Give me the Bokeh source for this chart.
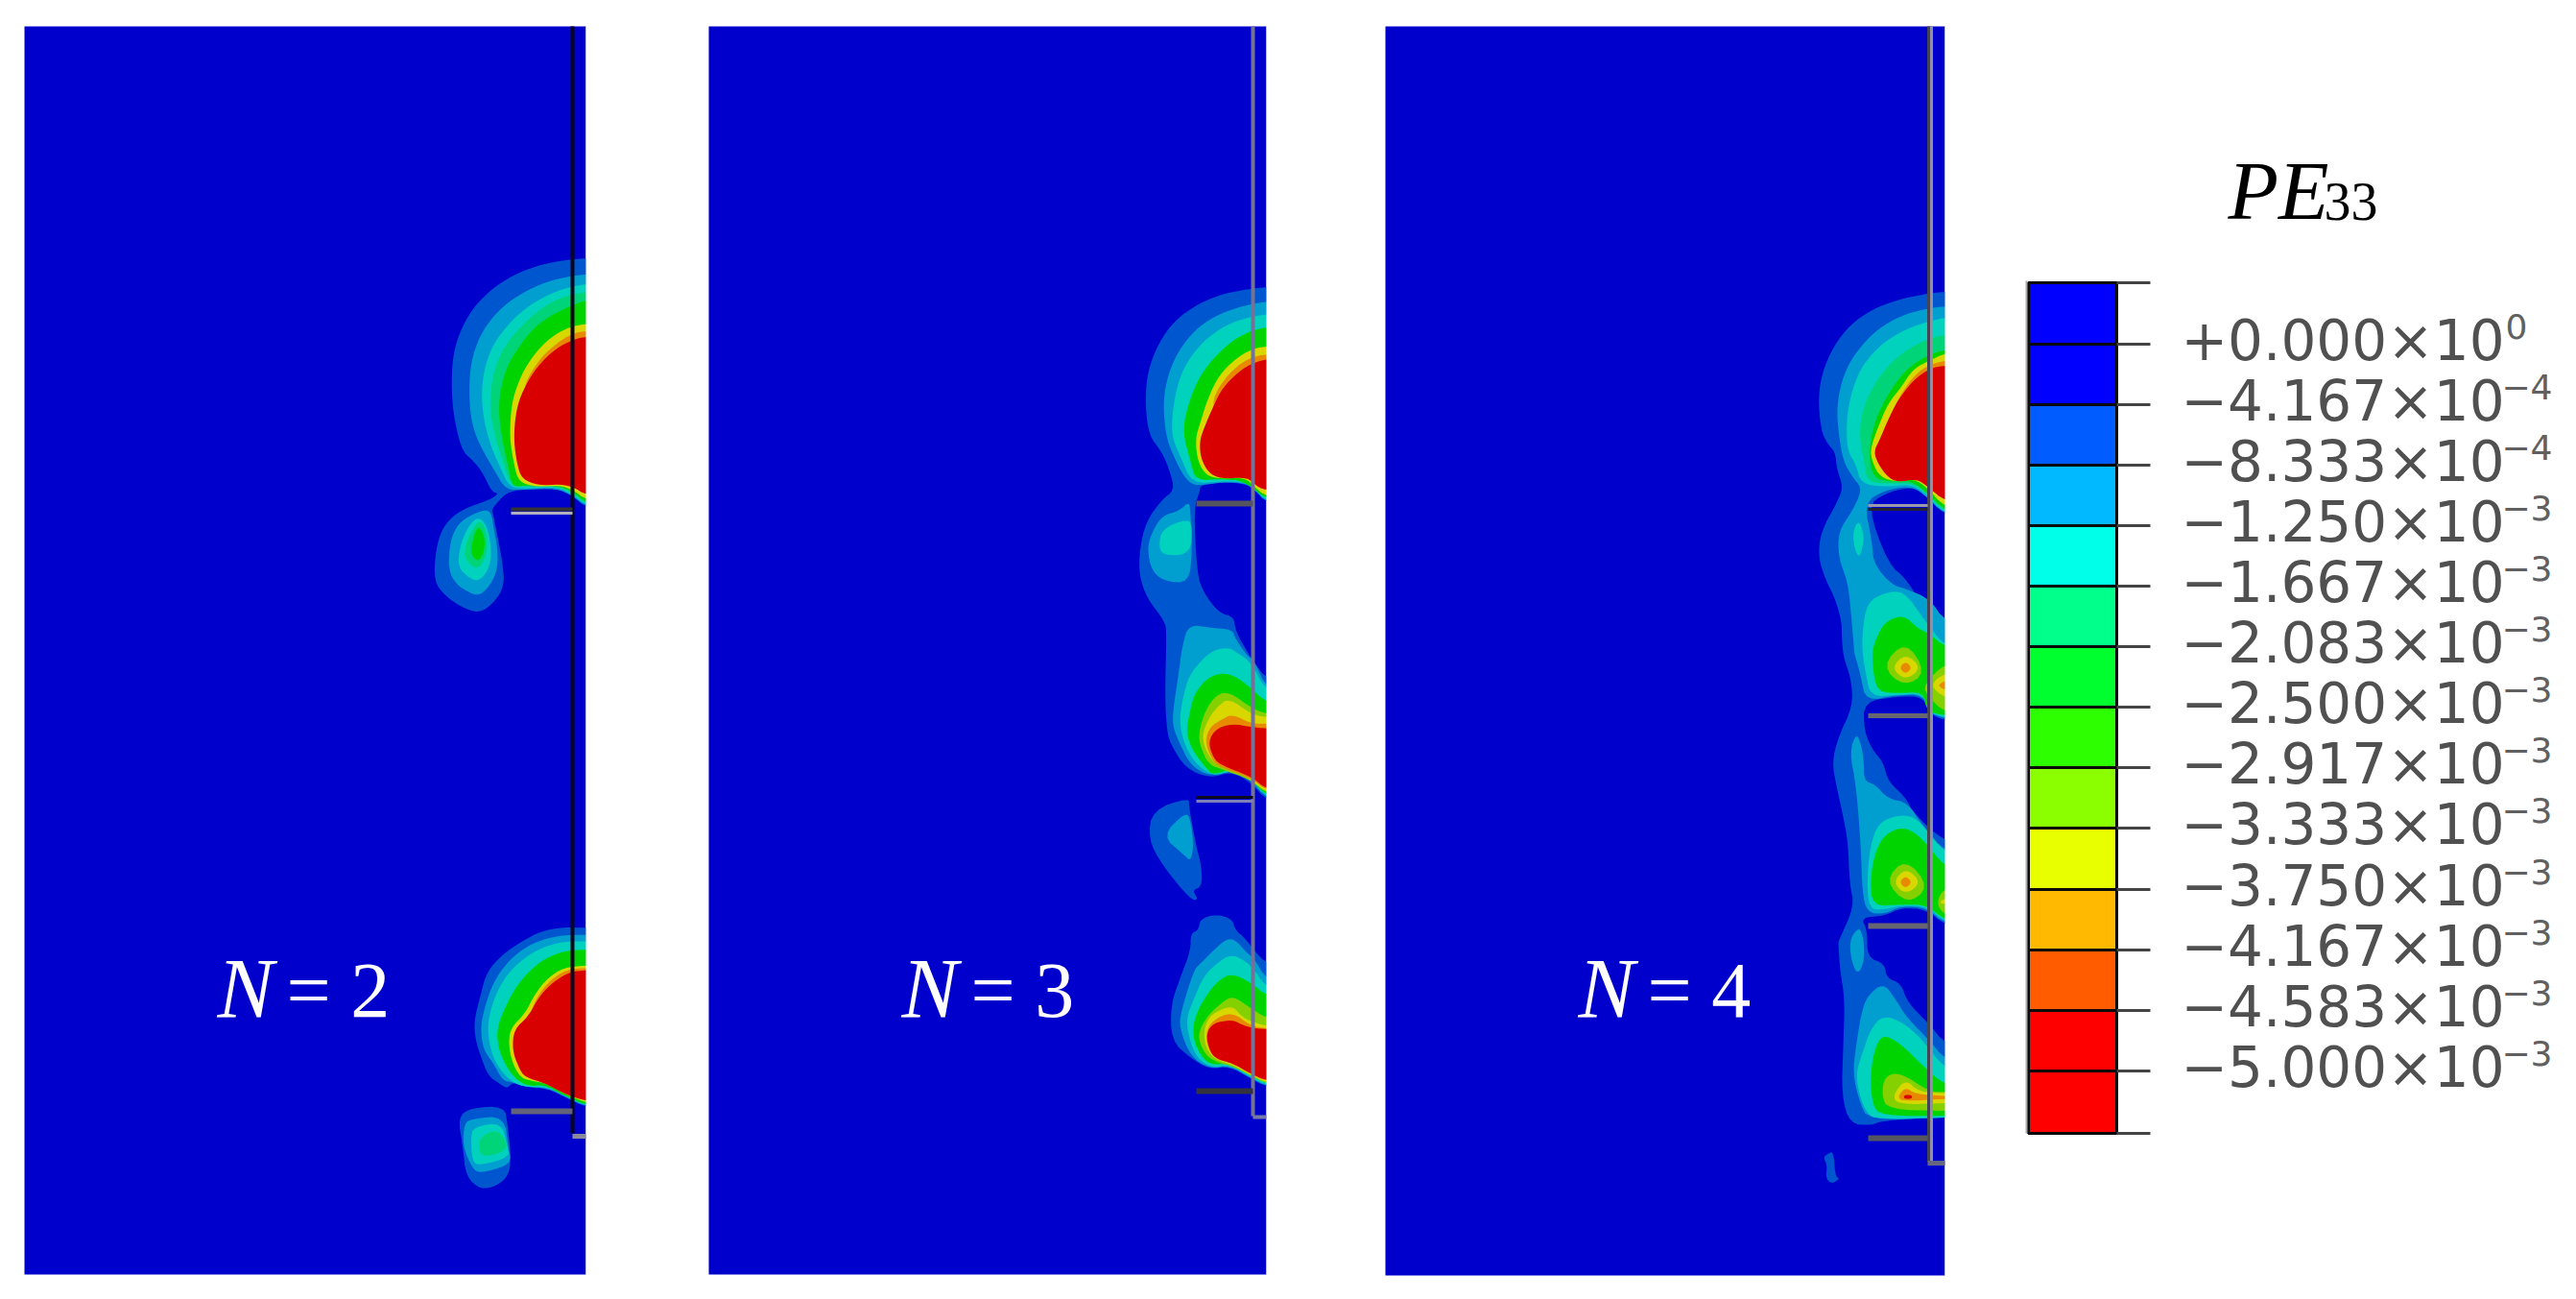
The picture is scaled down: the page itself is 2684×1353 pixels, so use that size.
from bokeh.plotting import figure
from bokeh.models import Range1d
from bokeh.core.properties import value
from bokeh.embed import file_html
from bokeh.resources import INLINE


def at(ox, oy, pts):
    return [(ox + a / 3, oy + b / 3) for a, b in pts]


def z1(p): return at(430, 240, p)
def z2(p): return at(430, 930, p)
def z3(p): return at(1160, 280, p)
def z4(p): return at(1160, 640, p)
def z5(p): return at(1160, 940, p)
def z6(p): return at(1870, 280, p)
def z7(p): return at(1870, 660, p)
def z8(p): return at(1870, 940, p)


# ---------- colours of the contour bands ----------
band_background = "#0000cc"
band_colors = {1: "#0056cf", 2: "#009fd0", 3: "#00d2bd", 4: "#00d478", 5: "#00d400",
               6: "#84d000", 7: "#d8d800", 8: "#e88a00", 9: "#d80000"}

# ---------- N = 2 ----------
n2_band1 = [
    z1([(540,85),(470,92),(400,105),(330,130),(260,170),(200,225),(160,285),(130,360),(120,440),(122,540),(135,620),(155,690),(190,720),(220,760),(245,815),(268,820),(240,840),(180,860),(130,885),(90,930),(70,1000),(65,1095),(100,1140),(150,1175),(205,1195),(250,1165),(285,1110),(280,1040),(265,960),(250,885),(245,870),(275,835),(300,815),(350,808),(400,805),(450,805),(500,830),(540,865)]),
    z2([(540,108),(470,105),(400,118),(340,150),(280,190),(230,245),(210,320),(190,400),(195,460),(215,520),(235,570),(270,595),(295,610),(310,590),(350,605),(420,610),(480,640),(540,668)]),
    z2([(180,670),(285,665),(295,720),(305,820),(300,880),(260,915),(210,925),(165,885),(155,790),(140,700)]),
]
n2_band2 = [
    z1([(540,135),(470,145),(400,165),(330,200),(270,245),(225,300),(195,360),(178,430),(175,510),(180,580),(195,640),(225,700),(255,750),(290,810),(350,808),(450,805),(500,828),(540,862)]),
    z1([(230,870),(185,885),(140,915),(115,970),(110,1060),(135,1105),(175,1130),(205,1140),(235,1115),(262,1065),(265,1000),(250,920),(245,885)]),
    z2([(540,130),(470,130),(400,145),(340,175),(290,220),(250,280),(225,350),(210,420),(220,490),(250,530),(280,585),(310,590),(350,605),(420,608),(480,638),(540,666)]),
    z2([(180,705),(285,695),(298,800),(305,825),(295,850),(210,875),(185,860),(155,790),(160,720)]),
]
n2_band3 = [
    z1([(540,165),(470,180),(400,210),(340,250),(290,300),(250,355),(225,420),(213,500),(220,590),(245,680),(275,745),(300,800),(350,805),(450,800),(500,825),(540,858)]),
    z1([(205,890),(170,925),(145,990),(140,1050),(175,1085),(205,1095),(235,1060),(245,1010),(235,930)]),
    z2([(540,150),(470,150),(400,170),(350,200),(300,245),(265,300),(240,370),(232,430),(245,500),(270,550),(310,590),(350,605),(420,605),(480,635),(540,665)]),
    z2([(190,730),(275,715),(295,790),(300,825),(210,850),(185,840),(180,760)]),
]
n2_band4 = [
    z1([(540,190),(470,205),(410,235),(350,285),(300,340),(265,400),(245,470),(240,560),(255,640),(280,720),(305,795),(350,800),(450,798),(500,820),(540,854)]),
    z1([(205,905),(175,950),(160,1000),(165,1030),(200,1060),(228,1020),(232,960),(220,920)]),
    z2([(210,760),(260,738),(290,770),(290,805),(220,825),(205,800)]),
]
n2_band5 = [
    z1([(540,215),(480,240),(420,270),(370,310),(325,370),(290,430),(270,510),(268,580),(280,660),(300,750),(310,800),(350,795),(450,795),(500,815),(540,850)]),
    z1([(205,920),(190,950),(178,1005),(200,1035),(220,1010),(225,960)]),
    z2([(540,175),(470,180),(410,205),(360,245),(320,295),(290,350),(262,420),(265,480),(290,540),(320,580),(360,603),(410,598),(470,630),(540,662)]),
]
n2_band7 = [
    z1([(540,290),(490,300),(440,325),(390,370),(345,435),(315,510),(305,570),(302,650),(315,730),(330,785),(385,800),(460,795),(500,810),(540,840)]),
    z2([(540,225),(470,232),(420,265),(380,315),(350,375),(305,420),(298,470),(310,530),(335,575),(365,585),(410,592),(470,625),(540,655)]),
]
n2_band8 = [
    z1([(540,312),(495,322),(450,350),(400,395),(360,455),(345,500),(500,520),(540,520)]),
    z2([(540,233),(480,238),(430,270),(390,318),(360,385),(400,420),(540,420)]),
]
n2_band9 = [
    z1([(540,330),(500,340),(450,365),(400,410),(360,465),(330,530),(318,590),(315,660),(325,730),(340,775),(390,795),(460,792),(500,800),(540,825)]),
    z2([(540,240),(490,245),(440,275),(395,320),(360,385),(315,425),(310,490),(330,545),(350,575),(410,592),(470,625),(540,650)]),
]

# ---------- N = 3 ----------
n3_band1 = [
    z3([(477,55),(400,65),(330,80),(260,110),(190,160),(140,230),(105,320),(98,420),(110,520),(150,570),(175,630),(190,690),(150,720),(100,790),(80,880),(80,960),(105,1030),(160,1100)])
    + z4([(165,60),(160,250),(165,350),(175,400),(225,480),(300,510),(370,490),(430,525),(477,580),(477,200),(440,150),(420,120),(380,50),(375,0)])
    + z3([(380,1130),(375,1085),(330,1075),(280,1010),(260,950),(250,745),(270,690),(270,675),(340,665),(410,670),(440,690),(477,730)]),
    z4([(235,570),(120,610),(108,700),(150,780),(240,890),(265,890),(245,860),(275,850),(275,790),(255,710),(235,600)]),
    z5([(320,35),(270,50),(265,85),(240,95),(240,150),(205,240),(178,320),(180,430),(240,485),(300,520),(360,510),(430,550),(477,575),(477,190),(440,150),(410,110),(380,85),(370,50)]),
]
n3_band2 = [
    z3([(477,100),(400,115),(330,140),(270,175),(215,235),(180,300),(160,370),(155,440),(165,530),(190,590),(215,640),(240,670),(270,675),(340,665),(410,668),(440,688),(477,728)]),
    z3([(235,725),(205,755),(150,770),(115,830),(105,880),(120,945),(160,975),(235,980),(245,880),(240,760)]),
    z4([(235,30),(215,90),(200,200),(185,300),(185,350),(205,400),(240,470),(300,505),(370,485),(430,518),(477,575),(477,230),(440,145),(415,125),(380,75),(370,45),(300,40)]),
    z4([(225,615),(150,690),(220,750),(240,770),(250,720),(240,640)]),
    z5([(360,110),(330,130),(270,190),(250,210),(210,340),(205,390),(240,480),(300,518),(360,508),(430,548),(477,572),(477,240),(440,175),(410,150),(385,120)]),
]
n3_band3 = [
    z3([(477,140),(400,155),(340,180),(280,225),(235,280),(205,340),(185,430),(180,520),(210,590),(245,670),(340,662),(410,665),(440,685),(477,725)]),
    z3([(230,780),(150,810),(140,870),(160,895),(240,890),(245,800)]),
    z4([(355,100),(300,115),(240,180),(220,240),(205,320),(215,390),(250,460),(310,505),(370,485),(430,515),(477,570),(477,240),(430,150),(390,120)]),
    z5([(365,160),(320,190),(280,230),(250,300),(225,365),(240,440),(265,490),(310,515),(360,505),(430,545),(477,570),(477,265),(440,210),(410,180)]),
]
n3_band5 = [
    z3([(477,180),(420,195),(360,230),(300,290),(260,350),(230,430),(215,510),(240,600),(255,660),(340,655),(410,662),(477,720)]),
    z4([(360,180),(300,190),(255,240),(240,290),(225,370),(250,430),(290,480),(310,500),(370,480),(430,515),(477,565),(477,275),(420,220)]),
    z5([(370,220),(330,240),(295,280),(260,340),(245,400),(260,460),(300,508),(360,500),(430,540),(477,565),(477,290),(430,250)]),
]
n3_band6 = [
    z4([(360,240),(320,250),(285,300),(265,370),(270,410),(295,465),(330,480),(430,515),(477,560),(477,310),(430,290)]),
    z5([(372,290),(340,310),(300,345),(270,390),(265,430),(290,480),(330,500),(370,510),(430,540),(477,565),(477,360),(430,330)]),
]
n3_band7 = [
    z3([(477,240),(430,250),(380,280),(330,330),(295,400),(270,480),(255,530),(262,600),(290,645),(335,655),(410,650),(445,685),(477,710)]),
    z4([(360,260),(325,285),(295,325),(275,380),(290,430),(320,470),(370,480),(430,515),(477,555),(477,320),(430,310)]),
    z5([(370,320),(320,340),(295,360),(280,405),(290,460),(320,490),(370,505),(430,538),(477,562),(477,385),(430,370),(400,355)]),
]
n3_band8 = [
    z3([(477,265),(430,275),(385,302),(335,355),(305,420),(330,480),(477,480)]),
    z4([(370,310),(340,325),(300,350),(285,395),(305,450),(330,475),(430,510),(477,550),(477,340),(430,340)]),
    z5([(370,340),(310,365),(285,410),(300,470),(330,490),(370,500),(430,535),(477,558),(477,392),(430,385)]),
]
n3_band9 = [
    z3([(477,280),(430,295),(390,320),(340,370),(310,430),(280,500),(268,540),(272,590),(295,635),(335,655),(410,650),(435,665),(450,680),(477,690)]),
    z4([(370,340),(320,355),(295,395),(310,445),(335,470),(430,505),(477,545),(477,355),(430,350)]),
    z5([(370,365),(310,375),(288,410),(300,465),(325,490),(370,500),(430,535),(477,555),(477,395),(430,390),(400,380)]),
]

# ---------- N = 4 ----------
n4_band1 = [
    z6([(468,70),(400,78),(320,95),(240,125),(170,175),(120,240),(85,320),(72,400),(80,500),(100,545),(125,570),(130,625),(150,680),(130,730),(80,820),(72,900),(95,970),(125,1030),(145,1100)])
    + z7([(145,0),(150,70),(175,140),(180,225),(135,320),(115,400),(130,480),(150,570),(165,650),(170,780),(185,850),(135,960)])
    + z8([(135,130),(140,210),(155,300),(150,450),(145,600),(170,690),(240,695),(270,680),(468,670),(468,440),(420,380),(350,310),(330,250),(285,235),(280,190),(225,170),(225,85)])
    + z7([(205,885),(280,880),(330,855),(410,860),(468,910),(468,650),(370,560),(345,510),(290,460),(275,400),(240,360),(215,300),(215,210),(320,195),(400,195),(420,250),(468,270)])
    + z6([(468,1110),(400,1060),(350,970),(290,920),(225,740),(280,700),(360,680),(400,700),(468,770)]),
    z8([(100,785),(120,775),(125,855),(140,860),(115,878),(95,860),(100,820),(88,795)]),
]
n4_band2 = [
    z6([(468,115),(400,125),(330,145),(260,185),(210,235),(170,290),(145,350),(130,430),(135,510),(150,600),(180,650),(205,680),(200,710),(175,760),(135,820),(135,900),(165,980),(175,1080),(185,1200)])
    + z7([(185,60),(205,130),(220,210),(320,190),(400,190),(420,245),(468,265)])
    + z6([(468,1100),(420,1030),(350,1000),(300,985),(245,920),(240,850),(215,730),(280,690),(360,678),(400,700),(468,768)]),
    z7([(190,310),(170,370),(190,470),(205,660),(210,810),(225,870),(280,875),(330,850),(410,855),(468,905),(468,680),(400,600),(350,525),(290,515),(250,470),(215,458),(215,400),(205,340)]),
    z8([(195,80),(170,115),(175,180),(195,225),(215,185),(215,120),(205,85)]),
    z8([(275,250),(225,290),(205,350),(190,450),(180,530),(200,620),(230,680),(468,670),(468,490),(420,430),(350,360),(310,295)]),
]
n4_band3 = [
    z6([(468,150),(410,165),(350,185),(280,225),(225,280),(190,340),(165,430),(160,510),(165,570),(190,610),(205,670),(280,680),(360,672),(400,695),(468,765)]),
    z6([(195,785),(180,825),(185,870),(200,905),(215,850),(210,810)]),
    z6([(280,1010),(225,1040),(210,1130),(210,1200)])
    + z7([(220,120),(235,195),(320,190),(400,185),(415,245),(468,260)])
    + z6([(468,1180),(400,1090),(340,1005)]),
    z7([(320,565),(260,590),(235,660),(225,760),(230,860),(280,860),(330,848),(410,850),(468,900),(468,685),(410,610),(370,570)]),
    z8([(275,350),(235,395),(210,470),(190,530),(200,600),(225,660),(260,675),(468,670),(468,520),(400,430),(340,375)]),
]
n4_band4 = [
    z6([(468,205),(420,215),(350,250),(290,300),(240,370),(210,440),(200,520),(215,600),(225,665),(300,670),(360,668),(400,690),(468,760)]),
]
n4_band5 = [
    z6([(468,250),(400,275),(340,320),(290,390),(250,470),(230,560),(240,650),(300,665),(360,660),(410,695),(468,755)]),
    z6([(340,1080),(280,1100),(250,1160),(240,1200)])
    + z7([(245,130),(260,180),(320,185),(400,180),(410,240),(468,255),(468,40),(420,0)])
    + z6([(380,1120)]),
    z7([(340,600),(280,625),(250,680),(235,760),(240,850),(330,845),(410,845),(468,895),(468,730),(400,640)]),
    z8([(275,410),(250,450),(235,530),(240,630),(270,665),(468,665),(468,570),(400,510),(330,440)]),
]
n4_band6 = [
    z7([(345,20),(270,100),(340,165),(410,120)]),
    z7([(468,90),(400,160),(415,195),(468,245)]),
    z7([(345,700),(280,770),(350,845),(420,790)]),
    z7([(468,790),(440,840),(468,880)]),
    z8([(280,540),(330,530),(420,590),(468,590),(468,650),(290,645),(270,600)]),
]
n4_band7 = [
    z6([(468,262),(420,285),(370,310),(330,370),(290,420),(260,490),(235,560),(240,600),(265,650),(320,665),(370,655),(410,680),(468,745)]),
    z7([(345,60),(300,105),(345,145),(395,105)]),
    z7([(468,120),(420,160),(468,200)]),
    z7([(345,730),(305,775),(345,815),(395,775)]),
    z7([(468,825),(450,838),(468,845)]),
    z8([(345,550),(305,600),(320,630),(468,625),(468,595),(385,590)]),
]
n4_band8 = [
    z6([(468,285),(420,298),(375,328),(330,390),(300,450),(340,480),(468,480)]),
    z7([(345,85),(325,105),(345,125),(365,105)]),
    z7([(468,145),(445,160),(468,175)]),
    z7([(345,755),(325,775),(345,795),(365,775)]),
    z8([(345,575),(320,605),(335,620),(468,612),(468,603),(375,597)]),
]
n4_band9 = [
    z6([(468,300),(420,310),(370,345),(320,410),(290,470),(265,530),(245,570),(260,610),(290,650),(320,665),(380,655),(415,680),(468,725)]),
    z8([(340,600),(340,612),(365,612),(365,600)]),
]

bands_by_level = {
    1: n2_band1 + n3_band1 + n4_band1,
    2: n2_band2 + n3_band2 + n4_band2,
    3: n2_band3 + n3_band3 + n4_band3,
    4: n2_band4 + n4_band4,
    5: n2_band5 + n3_band5 + n4_band5,
    6: n3_band6 + n4_band6,
    7: n2_band7 + n3_band7 + n4_band7,
    8: n2_band8 + n3_band8 + n4_band8,
    9: n2_band9 + n3_band9 + n4_band9,
}

# ---------- panels ----------
panel_left = [25, 738, 1443]
panel_right = [610, 1319, 2026]
panel_top = [27, 27, 27]
panel_bottom = [1327, 1327, 1328]
panel_labels = ["2", "3", "4"]
label_left = [226, 939, 1644]

# thin structure lines: x0, x1, y0, y1, colour, width
struct_lines = [
    (596, 596, 27, 1180, "#05051e", 4), (532, 596, 530, 530, "#333333", 4), (532, 596, 534, 534, "#b0b0c0", 3),
    (532, 596, 1157, 1157, "#62627a", 6), (596, 610, 1183, 1183, "#8a8a9a", 5),
    (1305, 1305, 27, 1162, "#73739a", 4), (1246, 1305, 524, 524, "#55555f", 6),
    (1246, 1305, 830, 830, "#0a0a20", 3), (1246, 1305, 834, 834, "#8080b8", 3),
    (1246, 1305, 1136, 1136, "#33333f", 6), (1305, 1319, 1163, 1163, "#7a7aa8", 4),
    (2009, 2009, 27, 1210, "#444455", 3), (2012, 2012, 27, 1210, "#8f8fa5", 3),
    (1946, 2008, 526, 526, "#9a9aa8", 3), (1946, 2008, 530, 530, "#22222f", 3),
    (1946, 2008, 745, 745, "#666672", 5), (1946, 2008, 964, 964, "#666672", 6),
    (1946, 2008, 1185, 1185, "#55555f", 6), (2008, 2026, 1211, 1211, "#666680", 5),
]

# ---------- legend ----------
legend_colors = ["#0000ff", "#0000ff", "#005cff", "#00b9ff", "#00ffe8", "#00ff8b", "#00ff2e",
                 "#2eff00", "#8bff00", "#e8ff00", "#ffb900", "#ff5c00", "#ff0000", "#ff0000"]
legend_mantissas = ["+0.000", "\u22124.167", "\u22128.333", "\u22121.250", "\u22121.667", "\u22122.083",
                    "\u22122.500", "\u22122.917", "\u22123.333", "\u22123.750", "\u22124.167", "\u22124.583", "\u22125.000"]
legend_exponents = ["0", "\u22124", "\u22124", "\u22123", "\u22123", "\u22123", "\u22123",
                    "\u22123", "\u22123", "\u22123", "\u22123", "\u22123", "\u22123"]
legend_edges = [294, 358, 421, 484, 547, 610, 673, 736, 799, 862, 926, 989, 1052, 1115, 1180]
leg_x0, leg_x1, leg_tick = 2113, 2205, 2240


def rounded(poly, edges=panel_right, rounds=2):
    """Soften the outline's corners; stretches along a panel's right edge run past it and are masked."""
    pts = []
    n = len(poly)
    for i, (x, y) in enumerate(poly):
        pts.append((x, y))
        nx, ny = poly[(i + 1) % n]
        for e in edges:
            if abs(x - e) < 1 and abs(nx - e) < 1:
                pts += [(e + 24, y), (e + 24, ny)]
    for _ in range(rounds):
        out = []
        m = len(pts)
        for i in range(m):
            a, b = pts[i], pts[(i + 1) % m]
            out.append((0.75 * a[0] + 0.25 * b[0], 0.75 * a[1] + 0.25 * b[1]))
            out.append((0.25 * a[0] + 0.75 * b[0], 0.25 * a[1] + 0.75 * b[1]))
        pts = out
    return pts


# SVG text sits this fraction of its size under the requested baseline
TEXT_DROP = 0.38


def put_text(x, y, s, size, color, font, style="normal", align="left"):
    p.text([x], [y - TEXT_DROP * size], text=[s], text_color=color, text_font=value(font),
           text_font_style=style, text_font_size=f"{size}px", text_baseline="alphabetic", text_align=align)


p = figure(width=2668, height=1337, output_backend="svg", toolbar_location=None,
           x_range=Range1d(0, 2668), y_range=Range1d(1337, 0), min_border=0,
           outline_line_color=None, background_fill_color="white", border_fill_color="white")
p.axis.visible = False
p.grid.visible = False

p.quad(left=panel_left, right=panel_right, top=panel_top, bottom=panel_bottom,
       fill_color=band_background, line_color=None)

for level in sorted(bands_by_level):
    polys = [rounded(poly) for poly in bands_by_level[level]]
    p.patches([[q[0] for q in poly] for poly in polys], [[q[1] for q in poly] for poly in polys],
              fill_color=band_colors[level], line_color=None)

# white strips hide what runs past each panel's right edge
p.quad(left=panel_right, right=[e + 40 for e in panel_right], top=panel_top, bottom=panel_bottom,
       fill_color="white", line_color=None)

for x0, x1, y0, y1, col, w in struct_lines:
    p.line([x0, x1], [y0, y1], line_color=col, line_width=w)

baseline = 1062
for lab, x in zip(panel_labels, label_left):
    put_text(x, baseline, "N", 88, "white", "Liberation Serif", style="italic")
    put_text(x + 72, baseline, "= " + lab, 82, "white", "Liberation Serif")

# legend cells, border, ticks
p.quad(left=leg_x0, right=leg_x1, top=legend_edges[:-1], bottom=legend_edges[1:],
       fill_color=legend_colors, line_color="#0a0a0a", line_width=3)
p.line([leg_x0 - 2, leg_x0 - 2], [292, 1180], line_color="#aaaaaa", line_width=2)
p.segment(x0=leg_x1, x1=leg_tick, y0=legend_edges, y1=legend_edges, line_color="#444444", line_width=3)

put_text(2321, 231, "PE", 86, "black", "Liberation Serif", style="italic")
put_text(2421, 231, "33", 56, "black", "Liberation Serif")

for mant, ex, y in zip(legend_mantissas, legend_exponents, legend_edges[1:-1]):
    put_text(2272, y + 19, mant + "\u00d710", 58, "#505050", "DejaVu Sans")
    put_text(2633 if ex == "0" else 2659, y - 5, ex, 36, "#606060", "DejaVu Sans", align="right")

open("out.html", "w").write(file_html(p, INLINE))
